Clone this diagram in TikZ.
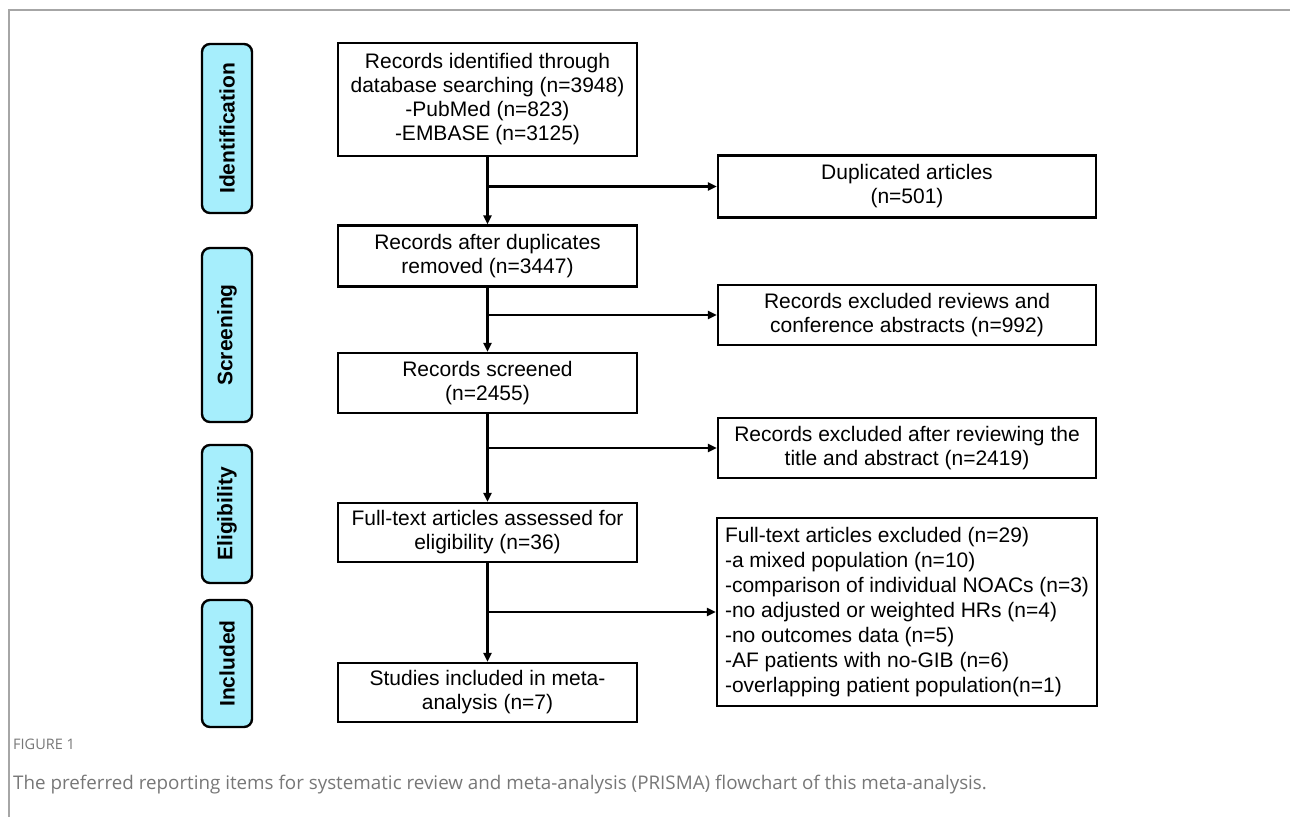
\documentclass[tikz,border=0pt]{standalone}
\usepackage{fontspec}
\setmainfont{Liberation Sans}
\newfontfamily\capfont{Open Sans}
\usetikzlibrary{arrows.meta}

\definecolor{phase}{HTML}{A6EEFC}
\definecolor{capgray}{HTML}{777777}

\tikzset{
  box/.style={draw, line width=2.4pt, fill=white, inner sep=0pt, align=center,
    font=\fontsize{21}{24}\selectfont},
  phasebox/.style={draw, line width=2.4pt, fill=phase, rounded corners=8pt,
    minimum width=50pt, inner sep=0pt, rotate=90,
    font=\fontsize{21}{24}\selectfont\bfseries},
  arr/.style={line width=2.2pt, -{Triangle[length=9pt,width=8pt]}}
}

\begin{document}
\begin{tikzpicture}[x=1pt,y=-1pt]
\useasboundingbox (0,0) rectangle (1290,817);

% frame
\draw[line width=1.5pt, black!35] (1290,10) -- (9,10) -- (9,817);

% phases
\node[phasebox, minimum height=50pt, minimum width=169pt] (idf) at (227,128.5) {Identification};
\node[phasebox, minimum height=50pt, minimum width=174pt] (scr) at (227,335) {Screening};
\node[phasebox, minimum height=50pt, minimum width=138pt] (elg) at (227,514) {Eligibility};
\node[phasebox, minimum height=50pt, minimum width=127pt] (inc) at (227,663.5) {Included};

% main column
\node[box, minimum width=299pt, minimum height=113pt] (rec) at (487.5,99.5)
  {Records identified through\\database searching (n=3948)\\-PubMed (n=823)\\-EMBASE (n=3125)};
\node[box, minimum width=299pt, minimum height=61pt] (dedup) at (487.5,256)
  {Records after duplicates\\removed (n=3447)};
\node[box, minimum width=299pt, minimum height=60pt] (screened) at (487.5,383)
  {Records screened\\(n=2455)};
\node[box, minimum width=299pt, minimum height=59pt] (fulltext) at (487.5,532.5)
  {Full-text articles assessed for\\eligibility (n=36)};
\node[box, minimum width=299pt, minimum height=59pt] (included) at (487.5,692.5)
  {Studies included in meta-\\analysis (n=7)};

% exclusions
\node[box, minimum width=378pt, minimum height=62pt] (dup) at (907,186.5)
  {Duplicated articles\\(n=501)};
\node[box, minimum width=378pt, minimum height=60pt] (excl1) at (907,315)
  {Records excluded reviews and\\conference abstracts (n=992)};
\node[box, minimum width=378pt, minimum height=60pt] (excl2) at (907,448)
  {Records excluded after reviewing the\\title and abstract (n=2419)};
\node[box, minimum width=380pt, minimum height=188pt, align=left,
  font=\fontsize{21}{25}\selectfont] (excl3) at (907,612)
  {\begin{minipage}{364pt}Full-text articles excluded (n=29)\\
   -a mixed population (n=10)\\
   -comparison of individual NOACs (n=3)\\
   -no adjusted or weighted HRs (n=4)\\
   -no outcomes data (n=5)\\
   -AF patients with no-GIB (n=6)\\
   -overlapping patient population(n=1)\end{minipage}};

% arrows
\draw[arr] (rec) -- (dedup);
\draw[arr] (dedup) -- (screened);
\draw[arr] (screened) -- (fulltext);
\draw[arr] (fulltext) -- (included);
\draw[arr] (rec.south |- dup.west) -- (dup.west);
\draw[arr] (dedup.south |- excl1.west) -- (excl1.west);
\draw[arr] (screened.south |- excl2.west) -- (excl2.west);
\draw[arr] (fulltext.south |- excl3.west) -- (excl3.west);

% caption
\node[anchor=base west, inner sep=0pt, text=capgray, font=\capfont\fontsize{14.5}{16}\selectfont] (fig) at (13,749) {FIGURE 1};
\node[anchor=base west, inner sep=0pt, text=capgray, font=\capfont\fontsize{18.8}{22}\selectfont] (cap) at (13,789)
  {The preferred reporting items for systematic review and meta-analysis (PRISMA) flowchart of this meta-analysis.};
\end{tikzpicture}
\end{document}
